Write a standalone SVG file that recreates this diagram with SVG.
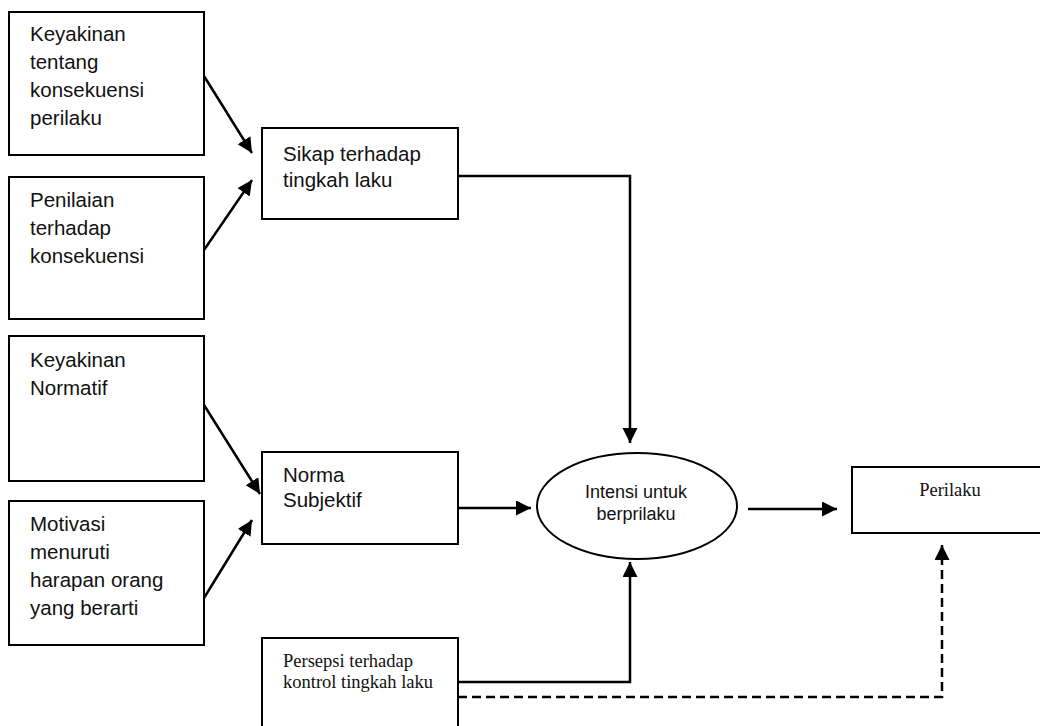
<svg xmlns="http://www.w3.org/2000/svg" width="1040" height="726" viewBox="0 0 1040 726">
<style>
.box{fill:#fff;stroke:#000;stroke-width:2}
.t{font-family:"Liberation Sans",Arial,sans-serif;font-size:20.5px;fill:#111}
.te{font-family:"Liberation Sans",Arial,sans-serif;font-size:18px;fill:#111}
.ts{font-family:"Liberation Serif","Times New Roman",serif;font-size:18.5px;fill:#111}
.c{fill:none;stroke:#000;stroke-width:2.5}
.d{fill:none;stroke:#000;stroke-width:2.5;stroke-dasharray:9,5}
</style>
<defs>
<marker id="ah" markerUnits="userSpaceOnUse" markerWidth="18" markerHeight="18" refX="15" refY="7.5" orient="auto">
<path d="M0,0 L15,7.5 L0,15 z" fill="#000"/>
</marker>
</defs>
<rect width="1040" height="726" fill="#fff"/>
<g id="n1"><rect class="box" x="9" y="12" width="195" height="143"/>
<text class="t" x="30" y="41">Keyakinan</text><text class="t" x="30" y="69">tentang</text><text class="t" x="30" y="97">konsekuensi</text><text class="t" x="30" y="125">perilaku</text></g>
<g id="n2"><rect class="box" x="9" y="177" width="195" height="142"/>
<text class="t" x="30" y="207">Penilaian</text><text class="t" x="30" y="235">terhadap</text><text class="t" x="30" y="263">konsekuensi</text></g>
<g id="n3"><rect class="box" x="9" y="336" width="195" height="145"/>
<text class="t" x="30" y="367">Keyakinan</text><text class="t" x="30" y="395">Normatif</text></g>
<g id="n4"><rect class="box" x="9" y="501" width="195" height="144"/>
<text class="t" x="30" y="531">Motivasi</text><text class="t" x="30" y="559">menuruti</text><text class="t" x="30" y="587">harapan orang</text><text class="t" x="30" y="615">yang berarti</text></g>
<g id="sikap"><rect class="box" x="262" y="128" width="196" height="91"/>
<text class="t" x="283" y="161">Sikap terhadap</text><text class="t" x="283" y="187">tingkah laku</text></g>
<g id="norma"><rect class="box" x="262" y="452" width="196" height="92"/>
<text class="t" x="283" y="482">Norma</text><text class="t" x="283" y="507">Subjektif</text></g>
<g id="persepsi"><rect class="box" x="262" y="638" width="196" height="110"/>
<text class="ts" x="283" y="667">Persepsi terhadap</text><text class="ts" x="283" y="688">kontrol tingkah laku</text></g>
<g id="intensi"><ellipse class="box" cx="637" cy="506" rx="100" ry="53"/>
<text class="te" x="636" y="498" text-anchor="middle">Intensi untuk</text><text class="te" x="636" y="520" text-anchor="middle">berprilaku</text></g>
<g id="perilaku"><rect class="box" x="852" y="467" width="200" height="66"/>
<text class="ts" x="950" y="496" text-anchor="middle">Perilaku</text></g>
<g id="connectors">
<line class="c" x1="204" y1="76" x2="252" y2="153" marker-end="url(#ah)"/>
<line class="c" x1="204" y1="250" x2="252" y2="180" marker-end="url(#ah)"/>
<line class="c" x1="204" y1="405" x2="260" y2="494" marker-end="url(#ah)"/>
<line class="c" x1="204" y1="598" x2="252" y2="520" marker-end="url(#ah)"/>
<polyline class="c" points="458,176 630,176 630,443" marker-end="url(#ah)"/>
<line class="c" x1="458" y1="508" x2="531" y2="508" marker-end="url(#ah)"/>
<line class="c" x1="748" y1="509" x2="837" y2="509" marker-end="url(#ah)"/>
<polyline class="c" points="458,682 630,682 630,562" marker-end="url(#ah)"/>
<polyline class="d" points="458,697 942,697 942,545" marker-end="url(#ah)"/>
</g>
</svg>
